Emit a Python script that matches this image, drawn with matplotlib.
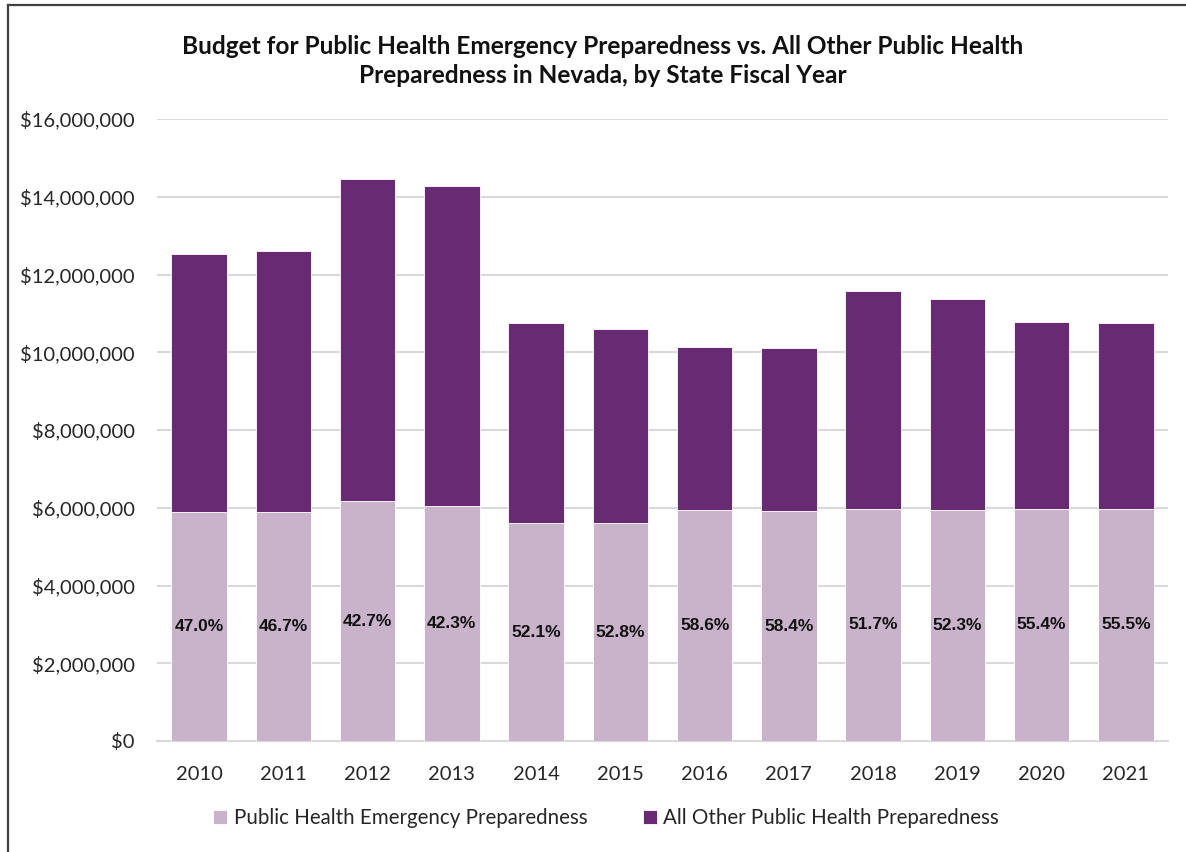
import numpy as np
import matplotlib.pyplot as plt
from matplotlib.lines import Line2D

# state fiscal years
years = ['2010', '2011', '2012', '2013', '2014', '2015',
         '2016', '2017', '2018', '2019', '2020', '2021']
# PHEP budget (dollars)
phep = [5890000, 5890000, 6170000, 6040000, 5600000, 5600000,
        5940000, 5910000, 5980000, 5940000, 5970000, 5970000]
# PHEP share of the total budget (percent)
phep_share = [47.0, 46.7, 42.7, 42.3, 52.1, 52.8,
              58.6, 58.4, 51.7, 52.3, 55.4, 55.5]

phep = np.array(phep, dtype=float)
share = np.array(phep_share) / 100.0
total = phep / share
other = total - phep

light = '#c9b3cb'
dark = '#672a73'
fam = ['Lato', 'DejaVu Sans']

fig = plt.figure(figsize=(11.86, 8.52), dpi=100)
ax = fig.add_axes([157 / 1186, 1 - 741 / 852, (1168 - 157) / 1186, (741 - 119) / 852])

x = np.arange(len(years))
w = 0.66
ax.bar(x, phep, w, color=light, edgecolor='white', linewidth=0.6, zorder=3,
       label='Public Health Emergency Preparedness')
ax.bar(x, other, w, bottom=phep, color=dark, edgecolor='white', linewidth=0.6, zorder=3,
       label='All Other Public Health Preparedness')

for i in range(len(years)):
    ax.text(x[i], phep[i] / 2, '%.1f%%' % phep_share[i], ha='center', va='center',
            fontsize=12.5, fontweight='bold', family=['Liberation Sans', 'DejaVu Sans'],
            color='#111111', zorder=4)

ax.set_xlim(-0.5, len(years) - 0.5)
ax.set_ylim(0, 16000000)
ax.set_yticks(np.arange(0, 16000001, 2000000))
ax.yaxis.set_major_formatter(plt.FuncFormatter(lambda v, p: '${:,.0f}'.format(v)))
ax.set_xticks(x)
ax.set_xticklabels(years)
ax.grid(axis='y', color='#d9d9d9', linewidth=1.5, zorder=0)
ax.tick_params(length=0, labelsize=14.5, labelcolor='#262626')
ax.tick_params(axis='y', pad=16)
ax.tick_params(axis='x', pad=18)
for lab in ax.get_xticklabels() + ax.get_yticklabels():
    lab.set_family(fam)
for s in ['top', 'right', 'left']:
    ax.spines[s].set_visible(False)
ax.spines['bottom'].set_color('#d9d9d9')
ax.spines['bottom'].set_linewidth(1.5)

fig.text(603 / 1186, 1 - 61 / 852,
         'Budget for Public Health Emergency Preparedness vs. All Other Public Health\n'
         'Preparedness in Nevada, by State Fiscal Year',
         ha='center', va='center', fontsize=17.6, fontweight='bold', family=fam,
         color='#111111', linespacing=1.3)

leg = fig.legend(loc='center', bbox_to_anchor=(606 / 1186, 1 - 818 / 852), ncol=2, frameon=False,
                 handlelength=0.7, handleheight=0.7, handletextpad=0.3, columnspacing=2.7,
                 prop={'family': fam, 'size': 14.8})
for t in leg.get_texts():
    t.set_color('#262626')

# chart frame
fig.add_artist(Line2D([7.5 / 1186, 7.5 / 1186], [0, 1 - 5 / 852], color='#404040', lw=1.6,
                      transform=fig.transFigure))
fig.add_artist(Line2D([7.5 / 1186, 1], [1 - 5 / 852, 1 - 5 / 852], color='#404040', lw=1.6,
                      transform=fig.transFigure))

fig.savefig('out.png', dpi=100)
